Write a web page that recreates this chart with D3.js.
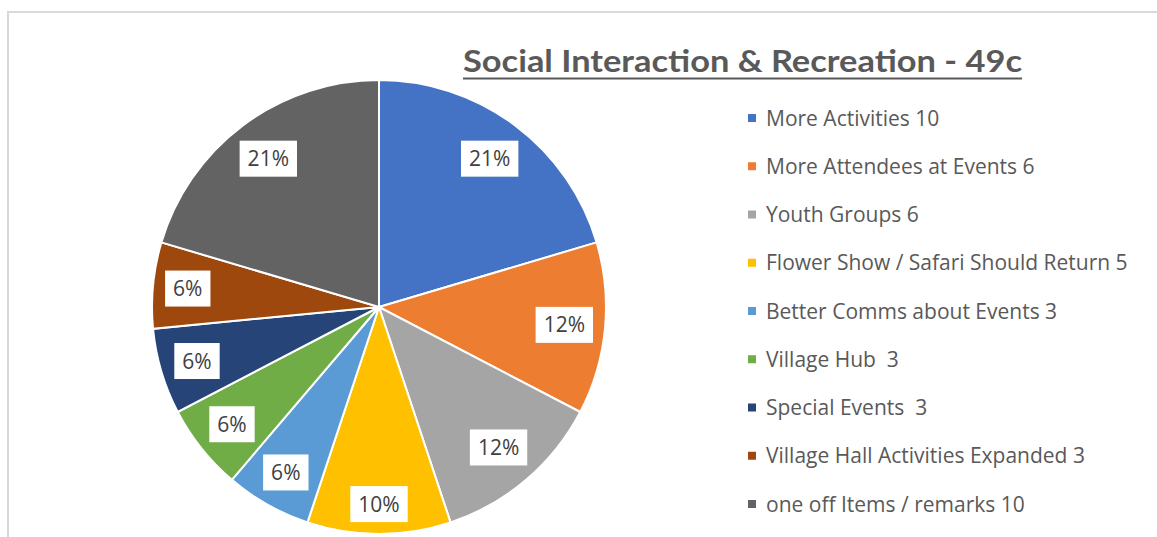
<!DOCTYPE html>
<html>
<head>
<meta charset="utf-8">
<script src="https://cdn.jsdelivr.net/npm/d3@7"></script>
<style>
	body { margin: 0; background: #fff; }
	svg { display: block; }
	text { font-family: "Open Sans", Lato, sans-serif; }
</style>
</head>
<body>
<svg id="svg" width="1157" height="537"></svg>
<script>
var svg = d3.select("svg"),
	width = +svg.attr("width"),
	height = +svg.attr("height");

var title = "Social Interaction & Recreation - 49c";

var categories = [
	"More Activities 10",
	"More Attendees at Events 6",
	"Youth Groups 6",
	"Flower Show / Safari Should Return 5",
	"Better Comms about Events 3",
	"Village Hub  3",
	"Special Events  3",
	"Village Hall Activities Expanded 3",
	"one off Items / remarks 10"
];
var values = [10, 6, 6, 5, 3, 3, 3, 3, 10];
// labels as printed on the chart
var pctLabels = ["21%", "12%", "12%", "10%", "6%", "6%", "6%", "6%", "21%"];
var colors = ["#4472C4", "#ED7D31", "#A5A5A5", "#FFC000", "#5B9BD5",
	"#70AD47", "#264478", "#9E480E", "#636363"];

// chart frame
svg.append("path")
	.attr("d", "M8," + height + "V12H" + width)
	.style("fill", "none")
	.style("stroke", "#d9d9d9")
	.style("stroke-width", 2);

var cx = 379, cy = 307, R = 227;

var pie = d3.pie().sort(null).value(function (d) { return d; });
var arcs = pie(values);
var arc = d3.arc().innerRadius(0).outerRadius(R);
var color = d3.scaleOrdinal().domain(d3.range(values.length)).range(colors);

var g = svg.append("g").attr("transform", "translate(" + cx + "," + cy + ")");

g.selectAll("path.slice")
	.data(arcs)
	.enter().append("path")
	.attr("class", "slice")
	.attr("d", arc)
	.style("fill", function (d, i) { return color(i); })
	.style("stroke", "#fff")
	.style("stroke-width", 2);

// labels: box pushed outward until its far corner sits just inside the rim
var lab = g.selectAll("g.lab")
	.data(arcs)
	.enter().append("g")
	.attr("class", "lab");

lab.append("text")
	.attr("text-anchor", "middle")
	.attr("dy", "0.36em")
	.style("font-size", "21px")
	.style("fill", "#404040")
	.text(function (d, i) { return pctLabels[i]; });

lab.each(function (d) {
	var t = d3.select(this).select("text");
	var bb = t.node().getBBox();
	var hw = bb.width / 2 + 8, hh = 18;
	d3.select(this).insert("rect", "text")
		.attr("x", -hw)
		.attr("y", -hh)
		.attr("width", hw * 2)
		.attr("height", hh * 2)
		.style("fill", "#fff");
	var a = (d.startAngle + d.endAngle) / 2;
	var ux = Math.sin(a), uy = -Math.cos(a);
	var c = [ux >= 0 ? hw : -hw, uy >= 0 ? hh : -hh];
	var r = R - 10;
	var uc = ux * c[0] + uy * c[1];
	var k = -uc + Math.sqrt(uc * uc - (c[0] * c[0] + c[1] * c[1]) + r * r);
	d3.select(this).attr("transform", "translate(" + (k * ux) + "," + (k * uy) + ")");
});

// title
svg.append("text")
	.attr("x", 463)
	.attr("y", 72)
	.attr("textLength", 559)
	.attr("lengthAdjust", "spacingAndGlyphs")
	.style("font-family", "Lato, sans-serif")
	.style("font-size", "30px")
	.style("font-weight", "bold")
	.style("fill", "#595959")
	.text(title);

svg.append("line")
	.attr("x1", 463).attr("x2", 1022)
	.attr("y1", 78.5).attr("y2", 78.5)
	.style("stroke", "#595959")
	.style("stroke-width", 2);

// legend
var ly = d3.scalePoint().domain(d3.range(categories.length)).range([118, 504]);

var leg = svg.append("g").selectAll("g")
	.data(categories)
	.enter().append("g")
	.attr("transform", function (d, i) { return "translate(748," + ly(i) + ")"; });

leg.append("rect")
	.attr("x", 0).attr("y", -4)
	.attr("width", 8).attr("height", 8)
	.style("fill", function (d, i) { return color(i); });

leg.append("text")
	.attr("x", 18)
	.attr("dy", "0.36em")
	.style("font-size", "21px")
	.style("fill", "#595959")
	.style("white-space", "pre")
	.text(function (d) { return d; });
</script>
</body>
</html>
